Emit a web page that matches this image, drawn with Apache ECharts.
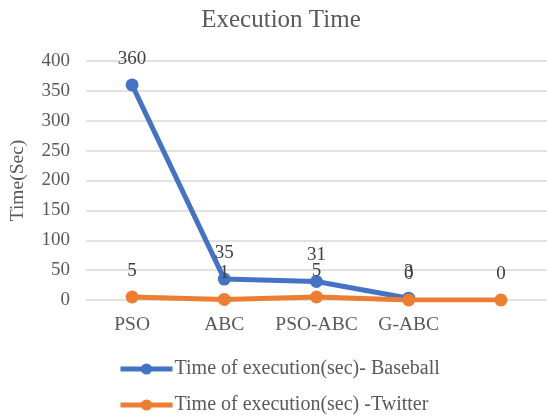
<!DOCTYPE html>
<html>
<head>
<meta charset="utf-8">
<script src="https://cdn.jsdelivr.net/npm/echarts@6/dist/echarts.min.js"></script>
<style>
  html, body { margin: 0; padding: 0; background: #fff; }
  #chart { width: 547px; height: 420px; }
</style>
</head>
<body>
<div id="chart"></div>
<script>
// Execution time per algorithm, two datasets
const categories = ['PSO', 'ABC', 'PSO-ABC', 'G-ABC', ''];
const baseballTimes = [360, 35, 31, 3, null];
const twitterTimes = [5, 1, 5, 0, 0];
const yTicks = { min: 0, max: 400, step: 50 };
const seriesNames = ['Time of execution(sec)- Baseball', 'Time of execution(sec) -Twitter'];
const seriesColors = ['#4472c4', '#ed7d31'];

const FONT = '"Liberation Serif", "Times New Roman", serif';
const TXT = '#595959';

const chart = echarts.init(document.getElementById('chart'));

function lineSeries(name, data, color) {
  return {
    name: name,
    type: 'line',
    data: data,
    symbol: 'circle',
    symbolSize: 13,
    lineStyle: { width: 5, color: color },
    itemStyle: { color: color },
    label: {
      show: true,
      position: 'top',
      distance: 10,
      fontFamily: FONT,
      fontSize: 19,
      color: '#404040'
    },
    z: 2
  };
}

// one legend block per series, stacked under the plot
function legendFor(name, top) {
  return {
    left: 118,
    top: top,
    padding: 0,
    itemWidth: 52,
    itemHeight: 14,
    lineStyle: { width: 5 },
    textStyle: { fontFamily: FONT, fontSize: 20, color: TXT, padding: [0, 0, 0, -3] },
    data: [name]
  };
}

chart.setOption({
  animation: false,
  title: {
    text: 'Execution Time',
    left: 276,
    textAlign: 'center',
    top: 3,
    textStyle: { fontFamily: FONT, fontSize: 25, fontWeight: 'normal', color: TXT }
  },
  legend: [legendFor(seriesNames[0], 359), legendFor(seriesNames[1], 395)],
  grid: { left: 81, top: 61, width: 469, height: 239 },
  xAxis: {
    type: 'category',
    data: categories,
    boundaryGap: true,
    axisLine: { show: false },
    axisTick: { show: false },
    axisLabel: { interval: 0, fontFamily: FONT, fontSize: 19.5, color: TXT, margin: 15 }
  },
  yAxis: {
    type: 'value',
    min: yTicks.min,
    max: yTicks.max,
    interval: yTicks.step,
    name: 'Time(Sec)',
    nameLocation: 'middle',
    nameGap: 58,
    nameTextStyle: { fontFamily: FONT, fontSize: 19.5, color: TXT },
    axisLabel: { fontFamily: FONT, fontSize: 19, color: TXT, margin: 16 },
    splitLine: { lineStyle: { color: '#d9d9d9', width: 1.5 } }
  },
  series: [
    lineSeries(seriesNames[0], baseballTimes, seriesColors[0]),
    lineSeries(seriesNames[1], twitterTimes, seriesColors[1])
  ]
});
</script>
</body>
</html>
